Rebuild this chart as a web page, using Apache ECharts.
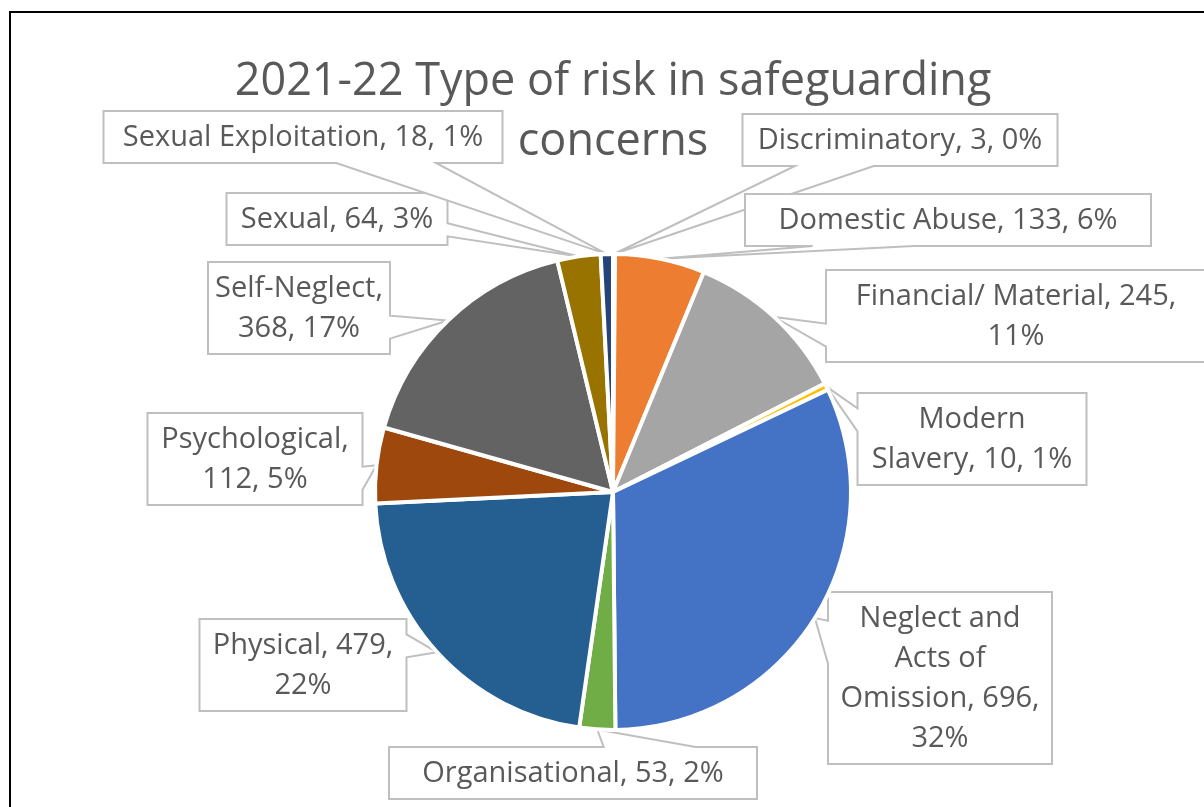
<!DOCTYPE html>
<html>
<head>
<meta charset="utf-8">
<script src="https://cdn.jsdelivr.net/npm/echarts@6/dist/echarts.min.js"></script>
<style>
  html, body { margin: 0; padding: 0; background: #fff; }
  #chart { width: 1204px; height: 807px; }
</style>
</head>
<body>
<div id="chart"></div>
<script>
const categories = [
  'Discriminatory', 'Domestic Abuse', 'Financial/ Material', 'Modern Slavery',
  'Neglect and Acts of Omission', 'Organisational', 'Physical', 'Psychological',
  'Self-Neglect', 'Sexual', 'Sexual Exploitation'
]
const counts = [3, 133, 245, 10, 696, 53, 479, 112, 368, 64, 18]
const colors = [
  '#5B9BD5', '#ED7D31', '#A5A5A5', '#FFC000', '#4472C4', '#70AD47',
  '#255E91', '#9E480E', '#636363', '#997300', '#264478'
]

// callout boxes: centre x, centre y, width; and words per text line
const labelBoxes = [
  [900, 140, 315], [948, 220, 406], [1016, 316, 380], [972, 439, 229],
  [940, 678, 224], [573, 773, 368], [303, 665, 207], [255, 459, 215],
  [299, 308, 182], [337, 219, 221], [303, 137, 399]
]
const lineWords = [
  [4], [5], [3, 1], [1, 3], [2, 2, 2, 1], [3], [2, 1], [1, 2], [1, 2], [3], [4]
]

const textColor = '#595959'
const boxColor = '#BFBFBF'
const font = 'Open Sans'
const lineH = 40

const chart = echarts.init(document.getElementById('chart'))

const boxHeight = (i) => lineWords[i].length * lineH + 12

const labelText = (p) => {
  const words = `${p.name}, ${p.value}, ${p.percent}%`.split(' ')
  const lines = []
  let k = 0
  lineWords[p.dataIndex].forEach(n => {
    lines.push(words.slice(k, k + n).join(' '))
    k += n
  })
  return lines.join('\n')
}

// excel style wedge callout: box with a pointer to (ax, ay)
const calloutPoints = (i, ax, ay) => {
  const [cx, cy, w] = labelBoxes[i]
  const h = boxHeight(i)
  const l = cx - w / 2, r = cx + w / 2, t = cy - h / 2, b = cy + h / 2
  const dxn = (ax - cx) / w, dyn = (ay - cy) / h
  let side
  if (Math.abs(dxn) > Math.abs(dyn)) side = dxn > 0 ? 'right' : 'left'
  else side = dyn > 0 ? 'bottom' : 'top'
  const f = (after) => after ? [7 / 12, 10 / 12] : [2 / 12, 5 / 12]
  const pts = [[l, t]]
  if (side === 'top') {
    const [a, c] = f(ax > cx)
    pts.push([l + w * a, t], [ax, ay], [l + w * c, t])
  }
  pts.push([r, t])
  if (side === 'right') {
    const [a, c] = f(ay > cy)
    pts.push([r, t + h * a], [ax, ay], [r, t + h * c])
  }
  pts.push([r, b])
  if (side === 'bottom') {
    const [a, c] = f(ax > cx)
    pts.push([l + w * c, b], [ax, ay], [l + w * a, b])
  }
  pts.push([l, b])
  if (side === 'left') {
    const [a, c] = f(ay > cy)
    pts.push([l, t + h * c], [ax, ay], [l, t + h * a])
  }
  return pts
}

const frame = {
  id: 'frame',
  type: 'rect',
  shape: { x: 10, y: 12, width: 1210, height: 820 },
  style: { fill: null, stroke: '#000', lineWidth: 2 },
  silent: true
}

const option = {
  backgroundColor: '#fff',
  animation: false,
  title: {
    text: '2021-22 Type of risk in safeguarding\nconcerns',
    left: 608,
    top: 47,
    textAlign: 'center',
    textStyle: {
      fontFamily: font,
      fontSize: 45,
      fontWeight: 'normal',
      color: textColor,
      lineHeight: 60
    }
  },
  graphic: [frame],
  series: [{
    type: 'pie',
    radius: 238,
    center: [613, 492],
    startAngle: 90,
    clockwise: true,
    percentPrecision: 0,
    avoidLabelOverlap: false,
    itemStyle: { borderColor: '#fff', borderWidth: 4 },
    label: {
      show: true,
      formatter: labelText,
      fontFamily: font,
      fontSize: 29,
      lineHeight: lineH,
      color: textColor,
      align: 'center'
    },
    labelLine: { show: false },
    labelLayout: (params) => {
      const b = labelBoxes[params.dataIndex]
      return { x: b[0], y: b[1] + 1, align: 'center', verticalAlign: 'middle' }
    },
    emphasis: { disabled: true },
    data: categories.map((name, i) => ({
      name,
      value: counts[i],
      itemStyle: { color: colors[i] }
    }))
  }]
}

chart.setOption(option)

// draw the callouts from the pie layout the library computed
const pieData = chart.getModel().getSeriesByIndex(0).getData()
const callouts = categories.map((name, i) => {
  const lay = pieData.getItemLayout(i)
  const mid = (lay.startAngle + lay.endAngle) / 2
  const ax = lay.cx + lay.r * Math.cos(mid)
  const ay = lay.cy + lay.r * Math.sin(mid)
  return {
    id: 'callout' + i,
    type: 'polygon',
    z: 1,
    silent: true,
    shape: { points: calloutPoints(i, ax, ay) },
    style: { fill: '#fff', stroke: boxColor, lineWidth: 2, lineJoin: 'miter' }
  }
})
chart.setOption({ graphic: [frame].concat(callouts) })

window.addEventListener('resize', () => chart.resize())
</script>
</body>
</html>
